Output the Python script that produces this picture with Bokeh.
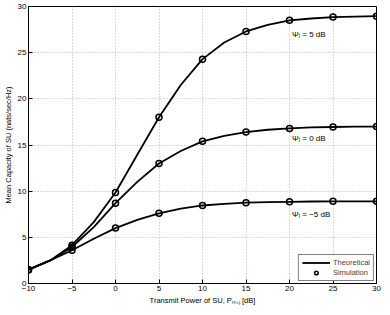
from bokeh.plotting import figure
from bokeh.models import FixedTicker, Label, Legend, LegendItem, Range1d
from bokeh.embed import file_html
from bokeh.resources import INLINE

# Simulation points
power_db = [-10, -5, 0, 5, 10, 15, 20, 25, 30]
sim_psi_5 = [1.5, 4.15, 9.85, 18.0, 24.3, 27.3, 28.5, 28.85, 28.95]
sim_psi_0 = [1.5, 3.95, 8.7, 13.0, 15.4, 16.4, 16.8, 16.95, 17.0]
sim_psi_m5 = [1.5, 3.6, 6.0, 7.6, 8.45, 8.75, 8.85, 8.9, 8.9]

# Theoretical curves (read at 2.5 dB steps)
theo_db = [-10, -7.5, -5, -2.5, 0, 2.5, 5, 7.5, 10, 12.5, 15, 17.5, 20, 22.5, 25, 27.5, 30]
theo_psi_5 = [1.5, 2.5, 4.15, 6.65, 9.85, 13.95, 18.0, 21.5, 24.3, 26.1, 27.3, 28.0, 28.5, 28.7, 28.85, 28.9, 28.95]
theo_psi_0 = [1.5, 2.5, 3.95, 6.1, 8.7, 11.0, 13.0, 14.35, 15.4, 16.0, 16.4, 16.65, 16.8, 16.9, 16.95, 17.0, 17.0]
theo_psi_m5 = [1.5, 2.5, 3.6, 4.85, 6.0, 6.9, 7.6, 8.1, 8.45, 8.62, 8.75, 8.82, 8.85, 8.88, 8.9, 8.9, 8.9]

x_ticks = [-10, -5, 0, 5, 10, 15, 20, 25, 30]
y_ticks = [0, 5, 10, 15, 20, 25, 30]
annotations = [("Ψᵢ = 5 dB", 20.3, 27.0), ("Ψᵢ = 0 dB", 20.3, 15.7), ("Ψᵢ = −5 dB", 20.3, 7.5)]

FONT = "Liberation Sans"

p = figure(width=382, height=307, output_backend="svg", toolbar_location=None,
           x_range=Range1d(-10, 30), y_range=Range1d(0, 30),
           min_border_left=0, min_border_right=6, min_border_top=6, min_border_bottom=0)
p.outline_line_color = "black"
p.outline_line_width = 1

for ax in (p.xaxis[0], p.yaxis[0]):
    ax.major_tick_in = 4
    ax.major_tick_out = 0
    ax.minor_tick_in = 0
    ax.minor_tick_out = 0
    ax.major_label_text_font = FONT
    ax.major_label_text_font_size = "8px"
    ax.major_label_text_color = "black"
    ax.axis_label_text_font = FONT
    ax.axis_label_text_font_size = "7.5px"
    ax.axis_label_text_font_style = "normal"
    ax.axis_label_text_color = "black"
    ax.axis_line_color = "black"
    ax.major_tick_line_color = "black"
    ax.major_label_standoff = 2
    ax.axis_label_standoff = 2

p.xaxis.ticker = FixedTicker(ticks=x_ticks)
p.yaxis.ticker = FixedTicker(ticks=y_ticks)
p.xaxis.major_label_overrides = {-10: "−10", -5: "−5"}
p.xaxis.axis_label = "Transmit Power of SU, Pₘ,ⱼ [dB]"
p.yaxis.axis_label = "Mean Capacity of SU (nats/sec/Hz)"

p.grid.grid_line_color = "#b4b4b4"
p.grid.grid_line_dash = "1 2"
p.grid.grid_line_width = 1
p.xgrid.ticker = FixedTicker(ticks=x_ticks)
p.ygrid.ticker = FixedTicker(ticks=y_ticks)

lines = []
circs = []
for theo, sim in ((theo_psi_5, sim_psi_5), (theo_psi_0, sim_psi_0), (theo_psi_m5, sim_psi_m5)):
    l = p.line(theo_db, theo, line_color="black", line_width=1.8, line_join="round")
    c = p.scatter(power_db, sim, marker="circle", size=6, fill_color=None,
                  line_color="black", line_width=1.5)
    lines.append(l)
    circs.append(c)

for txt, x, y in annotations:
    p.add_layout(Label(x=x, y=y, text=txt, text_font=FONT, text_font_size="8px",
                       text_baseline="middle", text_color="black"))

legend = Legend(items=[LegendItem(label="Theoretical", renderers=[lines[0]]),
                       LegendItem(label="Simulation", renderers=[circs[0]])],
                location="bottom_right")
legend.label_text_font = FONT
legend.label_text_font_size = "7.5px"
legend.label_height = 9
legend.glyph_height = 9
legend.glyph_width = 28
legend.spacing = 1
legend.padding = 3
legend.margin = 2
legend.label_standoff = 3
legend.border_line_color = "black"
legend.border_line_width = 1
legend.background_fill_alpha = 1
p.add_layout(legend, "center")

open("out.html", "w").write(file_html(p, INLINE))
